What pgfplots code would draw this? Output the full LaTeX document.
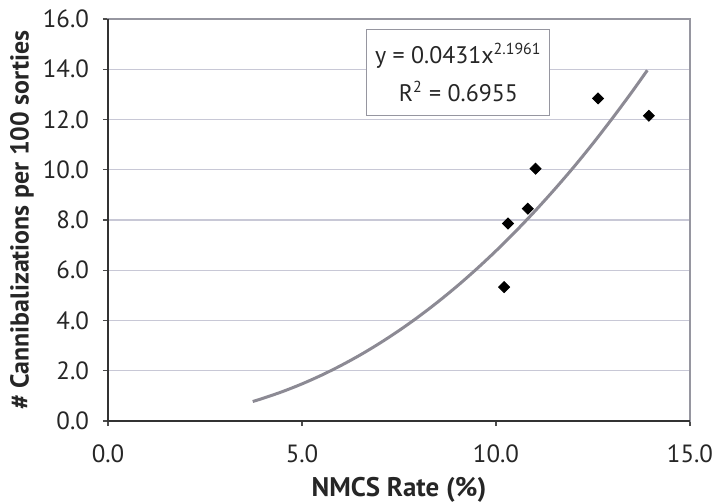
\documentclass[border=0pt]{standalone}
\usepackage{fontspec}
\setmainfont{PT Sans}
\usepackage{pgfplots}
\pgfplotsset{compat=1.18}
\definecolor{gridc}{RGB}{200,200,214}
\definecolor{curvec}{RGB}{140,138,148}
\definecolor{framec}{RGB}{150,150,160}
\begin{document}
\begin{tikzpicture}
\begin{axis}[
  name=ax,
  scale only axis,
  width=291bp, height=201bp,
  xmin=0, xmax=15, ymin=0, ymax=16,
  xtick={0,5,10,15}, ytick={0,2,...,16},
  xticklabel={\pgfmathprintnumber[fixed,fixed zerofill,precision=1]{\tick}},
  yticklabel={\pgfmathprintnumber[fixed,fixed zerofill,precision=1]{\tick}},
  /pgf/number format/assume math mode=true,
  tick label style={font=\fontsize{12.5}{14}\selectfont, text=black!85},
  xticklabel style={yshift=-6bp},
  yticklabel style={xshift=-3.5bp},
  tick pos=left, tick align=outside, major tick length=2.5bp,
  tick style={black!70, line width=0.6bp},
  ymajorgrids, grid style={gridc, line width=0.6bp},
  axis line style={framec, line width=0.6bp},
  xlabel={\textbf{NMCS Rate (\%)}},
  ylabel={\textbf{\# Cannibalizations per 100 sorties}},
  every axis x label/.style={at={(axis description cs:0.5,0)}, yshift=-34.5bp, anchor=center, font=\fontsize{13.5}{15}\selectfont, text=black!85},
  every axis y label/.style={at={(axis description cs:0,0.5)}, xshift=-43bp, rotate=90, anchor=center, font=\fontsize{13}{15}\selectfont, text=black!85},
  clip=false,
]
\addplot[curvec, line width=1.5bp, smooth, no markers] coordinates {
 (3.73,0.776) (4,0.905) (4.5,1.172) (5,1.477) (5.5,1.821) (6,2.205)
 (6.5,2.628) (7,3.093) (7.5,3.599) (8,4.147) (8.5,4.738) (9,5.371)
 (9.5,6.050) (10,6.772) (10.5,7.538) (11,8.348) (11.5,9.203) (12,10.10)
 (12.5,11.05) (13,12.05) (13.5,13.09) (13.9,13.96)
};
\addplot[only marks, mark=square*, mark size=1.95bp, mark options={rotate=45, fill=black, draw=black}] coordinates {
 (12.63,12.84) (13.94,12.15) (11.02,10.04) (10.82,8.45) (10.31,7.86) (10.21,5.33)
};
\draw[black!80, line width=0.8bp] (rel axis cs:0,1) -- (rel axis cs:0,0) -- (rel axis cs:1,0);
\node[draw=framec, line width=0.6bp, fill=white, minimum width=91.5bp, minimum height=43bp, align=center, font=\fontsize{12}{19}\selectfont, text=black!85, inner sep=0pt]
  at (axis cs:9.03,13.88) {y = 0.0431x\textsuperscript{2.1961}\\R\textsuperscript{2} = 0.6955};
\end{axis}
\pgfresetboundingbox
\path[use as bounding box] ([xshift=-54bp,yshift=-40.5bp]ax.south west) rectangle ([xshift=12.5bp,yshift=9.5bp]ax.north east);
\end{tikzpicture}
\end{document}
